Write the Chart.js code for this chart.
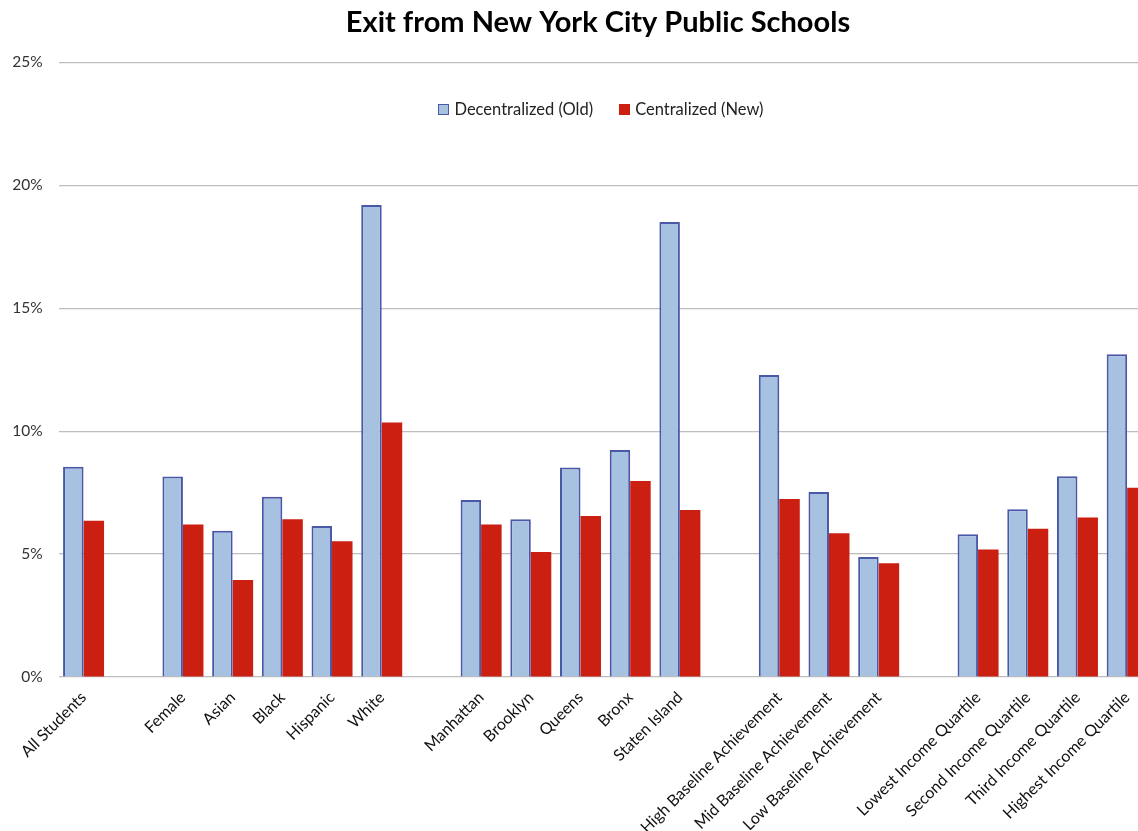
<!DOCTYPE html>
<html>
<head>
<meta charset="utf-8">
<script src="https://cdn.jsdelivr.net/npm/chart.js@4"></script>
<style>
    body { margin: 0; overflow: hidden; background: #fff; font-family: Lato, "Open Sans", sans-serif; }
    #wrap { position: relative; width: 1196px; height: 831px; }
    #legend {
        position: absolute;
        top: 99px;
        left: 0;
        width: 1202px;
        display: flex;
        justify-content: center;
        font-size: 16.5px;
        line-height: 20px;
        color: #222;
    }
    .legend-item { display: flex; align-items: center; margin: 0 13px; }
    .legend-box { width: 9px; height: 9px; margin-right: 5px; }
</style>
</head>
<body>
<div id="wrap">
    <canvas id="exitChart"></canvas>
    <div id="legend"></div>
</div>
<script>
// empty strings are the gaps between groups
const categories = [
    'All Students', '',
    'Female', 'Asian', 'Black', 'Hispanic', 'White', '',
    'Manhattan', 'Brooklyn', 'Queens', 'Bronx', 'Staten Island', '',
    'High Baseline Achievement', 'Mid Baseline Achievement', 'Low Baseline Achievement', '',
    'Lowest Income Quartile', 'Second Income Quartile', 'Third Income Quartile', 'Highest Income Quartile'
];

const decentralizedOld = [
    8.55, null,
    8.15, 5.95, 7.33, 6.14, 19.2, null,
    7.2, 6.42, 8.52, 9.23, 18.5, null,
    12.28, 7.52, 4.88, null,
    5.81, 6.82, 8.16, 13.13
];

const centralizedNew = [
    6.35, null,
    6.2, 3.94, 6.42, 5.52, 10.35, null,
    6.2, 5.08, 6.55, 7.97, 6.79, null,
    7.24, 5.85, 4.63, null,
    5.19, 6.03, 6.49, 7.7
];

const yTicks = [0, 5, 10, 15, 20, 25];

const fontFamily = 'Lato, "Open Sans", sans-serif';
const gridColor = '#bdbdbd';

const ctx = document.getElementById('exitChart').getContext('2d');

const exitChart = new Chart(ctx, {
    type: 'bar',
    data: {
        labels: categories,
        datasets: [{
            label: 'Decentralized (Old)',
            data: decentralizedOld,
            backgroundColor: '#a7c1e0',
            borderColor: '#4b58a8',
            borderWidth: 2,
            categoryPercentage: 0.825,
            barPercentage: 1
        }, {
            label: 'Centralized (New)',
            data: centralizedNew,
            backgroundColor: '#cb1f12',
            borderColor: '#cb1f12',
            borderWidth: 0,
            categoryPercentage: 0.825,
            barPercentage: 1
        }]
    },
    options: {
        responsive: true,
        maintainAspectRatio: false,
        animation: false,
        plugins: {
            title: {
                display: true,
                text: 'Exit from New York City Public Schools',
                color: '#000',
                font: { family: fontFamily, size: 29, weight: 'bold' },
                padding: { top: 5, bottom: 22.5 }
            },
            legend: { display: false },
            tooltip: { enabled: false }
        },
        scales: {
            x: {
                grid: { display: false },
                border: { display: false },
                ticks: {
                    color: '#111',
                    font: { family: fontFamily, size: 16 },
                    minRotation: 45,
                    maxRotation: 45,
                    autoSkip: false
                },
                afterFit: function (scale) {
                    scale.height = 154;
                }
            },
            y: {
                min: 0,
                max: 25,
                afterBuildTicks: function (scale) {
                    scale.ticks = yTicks.map(v => ({ value: v }));
                },
                grid: {
                    color: gridColor,
                    lineWidth: 1.2,
                    drawTicks: false
                },
                border: { display: false },
                ticks: {
                    color: '#333',
                    padding: 16,
                    font: { family: fontFamily, size: 15.5 },
                    callback: function (value) {
                        return value + '%';
                    }
                },
                afterFit: function (scale) {
                    scale.width = 58.7;
                }
            },
            // empty axis only keeps room on the right
            spacer: {
                position: 'right',
                display: true,
                grid: { display: false },
                border: { display: false },
                ticks: { display: false },
                afterFit: function (scale) {
                    scale.width = 44;
                }
            }
        }
    }
});

// Legend drawn as HTML so it can sit inside the plot area in one row
const legendEl = document.getElementById('legend');
exitChart.data.datasets.forEach(ds => {
    const item = document.createElement('div');
    item.className = 'legend-item';
    item.innerHTML = `<span class="legend-box" style="background:${ds.backgroundColor};border:1px solid ${ds.borderColor}"></span>${ds.label}`;
    legendEl.appendChild(item);
});
</script>
</body>
</html>
